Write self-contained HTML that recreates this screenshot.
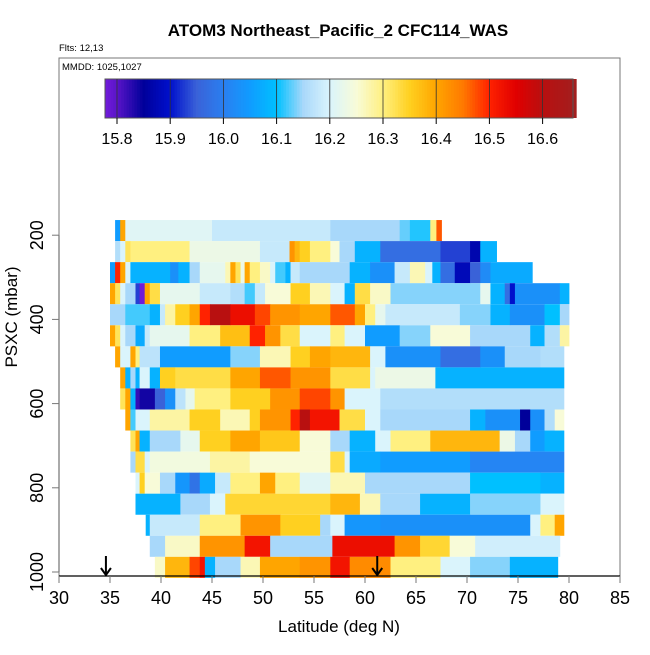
<!DOCTYPE html>
<html><head><meta charset="utf-8"><style>
html,body{margin:0;padding:0;background:#fff;}
svg text{font-family:"Liberation Sans",sans-serif;}
</style></head><body>
<svg id="chart" width="650" height="650" viewBox="0 0 650 650" xmlns="http://www.w3.org/2000/svg">
<rect width="650" height="650" fill="#fff"/>
<text x="338" y="36" font-size="17" font-weight="bold" text-anchor="middle">ATOM3 Northeast_Pacific_2 CFC114_WAS</text>
<text x="59" y="51" font-size="9.5">Flts: 12,13</text>
<rect x="59" y="58" width="561" height="518" fill="none" stroke="#777" stroke-width="1"/>
<text x="62" y="70" font-size="9.5">MMDD: 1025,1027</text>
<g id="colorbar"></g>
<g id="cells"></g>
<g id="axes"></g>
</svg>
<script>
const NS="http://www.w3.org/2000/svg";
const xTicks=[30,35,40,45,50,55,60,65,70,75,80,85];
const yTicks=[200,400,600,800,1000];
const cbTicks=[15.8,15.9,16.0,16.1,16.2,16.3,16.4,16.5,16.6];
const cbLabels=["15.8","15.9","16.0","16.1","16.2","16.3","16.4","16.5","16.6"];
const rowPressure=[189,239,289,339,389,439,489,539,589,639,689,739,789,839,889,939,989];
const arrowLats=[34.6,61.2];
const row0=[[35.5,36.0,16.05],[36.0,36.5,16.4],[36.5,45,16.21],[45,56.6,16.18],[56.6,63.4,16.15],[63.4,64.4,16.13],[64.4,66.4,16.11],[66.4,67.0,16.3],[67.0,67.5,16.47]];
const row1=[[35.5,36.0,16.16],[36.0,36.5,16.2],[36.5,37.0,16.32],[37.0,42.8,16.3],[42.8,49.7,16.23],[49.7,52.6,16.18],[52.6,53.1,16.42],[53.1,53.6,16.38],[53.6,54.6,16.35],[54.6,56.6,16.3],[56.6,57.5,16.25],[57.5,59.0,16.15],[59.0,61.5,16.08],[61.5,67.4,15.97],[67.4,70.3,15.93],[70.3,71.3,15.87],[71.3,72.9,16.08]];
const row2=[[35.0,35.5,16.05],[35.5,36.0,16.5],[36.0,36.5,16.4],[36.5,37.0,16.2],[37.0,40.9,16.08],[40.9,41.7,16.03],[41.7,42.8,16.08],[42.8,43.8,16.15],[43.8,46.3,16.22],[46.3,46.8,16.27],[46.8,47.3,16.4],[47.3,47.8,16.32],[47.8,48.2,16.23],[48.2,48.7,16.4],[48.7,49.7,16.3],[49.7,50.7,16.26],[50.7,51.2,16.2],[51.2,52.2,16.12],[52.2,52.7,16.08],[52.7,53.6,16.18],[53.6,58.5,16.15],[58.5,60.5,16.08],[60.5,62.9,16.03],[62.9,64.4,16.18],[64.4,65.9,16.27],[65.9,66.6,16.2],[66.6,67.4,16.08],[67.4,68.8,15.97],[68.8,70.3,15.88],[70.3,71.3,15.95],[71.3,72.3,16.02],[72.3,76.4,16.07]];
const row3=[[35.0,35.5,16.4],[35.5,36.0,16.32],[36.0,36.5,16.2],[36.5,37.5,16.15],[37.5,37.9,15.93],[37.9,38.4,15.78],[38.4,38.9,16.4],[38.9,39.9,16.33],[39.9,43.8,16.22],[43.8,46.8,16.18],[46.8,48.2,16.16],[48.2,49.2,16.12],[49.2,50.2,16.18],[50.2,52.7,16.25],[52.7,54.6,16.35],[54.6,56.6,16.27],[56.6,58.0,16.2],[58.0,59.0,16.08],[59.0,60.5,16.33],[60.5,62.5,16.26],[62.5,71.3,16.14],[71.3,72.3,16.22],[72.3,73.7,16.08],[73.7,74.2,15.97],[74.2,74.7,15.9],[74.7,79.1,16.03],[79.1,80.0,16.08]];
const row4=[[35.0,36.5,16.15],[36.5,38.9,16.12],[38.9,39.9,16.08],[39.9,40.4,16.18],[40.4,41.4,16.28],[41.4,42.8,16.35],[42.8,43.8,16.4],[43.8,44.8,16.5],[44.8,46.8,16.6],[46.8,49.2,16.53],[49.2,50.7,16.48],[50.7,53.6,16.42],[53.6,56.6,16.4],[56.6,59.0,16.47],[59.0,60.0,16.4],[60.0,61.0,16.3],[61.0,62.0,16.22],[62.0,69.3,16.18],[69.3,72.3,16.14],[72.3,74.2,16.08],[74.2,77.6,16.03],[77.6,79.1,16.1],[79.1,80.0,16.15]];
const row5=[[35.0,35.5,16.4],[35.5,36.0,16.32],[36.0,36.5,16.2],[36.5,37.5,16.15],[37.5,38.4,16.07],[38.4,38.9,16.18],[38.9,42.8,16.22],[42.8,45.8,16.3],[45.8,48.7,16.37],[48.7,50.2,16.5],[50.2,51.7,16.42],[51.7,53.6,16.33],[53.6,56.6,16.2],[56.6,58.0,16.3],[58.0,60.0,16.2],[60.0,63.4,16.05],[63.4,66.4,16.14],[66.4,70.3,16.25],[70.3,76.2,16.15],[76.2,77.6,16.08],[77.6,79.1,16.16],[79.1,80.0,16.28]];
const row6=[[35.5,36.0,16.4],[36.0,37.0,16.2],[37.0,37.5,16.4],[37.5,37.9,16.3],[37.9,39.9,16.17],[39.9,46.8,16.05],[46.8,49.7,16.14],[49.7,52.7,16.27],[52.7,54.6,16.35],[54.6,56.6,16.4],[56.6,60.5,16.38],[60.5,62.0,16.2],[62.0,67.4,16.03],[67.4,71.3,15.97],[71.3,73.7,16.03],[73.7,77.2,16.15],[77.2,79.5,16.16]];
const row7=[[36.0,36.5,16.4],[36.5,37.0,16.08],[37.0,37.5,16.15],[37.5,37.9,16.08],[37.9,38.9,16.2],[38.9,39.9,16.08],[39.9,41.4,16.35],[41.4,46.8,16.33],[46.8,49.7,16.4],[49.7,52.7,16.47],[52.7,56.6,16.42],[56.6,60.5,16.33],[60.5,61.0,16.2],[61.0,66.9,16.23],[66.9,79.5,16.08]];
const row8=[[36.0,36.5,16.32],[36.5,37.0,16.4],[37.0,37.5,16.08],[37.5,37.9,15.82],[37.9,39.4,15.84],[39.4,40.4,15.95],[40.4,41.4,16.03],[41.4,42.4,16.17],[42.4,43.3,16.22],[43.3,46.8,16.3],[46.8,50.7,16.35],[50.7,53.6,16.42],[53.6,56.6,16.48],[56.6,58.0,16.42],[58.0,61.5,16.2],[61.5,79.5,16.16]];
const row9=[[36.5,37.0,16.4],[37.0,37.5,16.12],[37.5,38.9,16.2],[38.9,42.8,16.28],[42.8,45.8,16.35],[45.8,48.7,16.27],[48.7,49.7,16.35],[49.7,52.7,16.42],[52.7,53.6,16.5],[53.6,54.6,16.6],[54.6,57.5,16.52],[57.5,60.0,16.33],[60.0,61.5,16.2],[61.5,70.3,16.15],[70.3,71.8,16.08],[71.8,75.2,16.03],[75.2,76.2,15.85],[76.2,77.6,16.03],[77.6,78.6,16.16],[78.6,79.5,16.25]];
const row10=[[37.0,37.5,16.32],[37.5,37.9,16.4],[37.9,38.9,16.08],[38.9,41.9,16.15],[41.9,43.8,16.22],[43.8,46.8,16.35],[46.8,49.7,16.4],[49.7,53.6,16.36],[53.6,56.6,16.25],[56.6,58.5,16.15],[58.5,61.0,16.08],[61.0,62.5,16.2],[62.5,66.4,16.3],[66.4,73.2,16.38],[73.2,74.7,16.23],[74.7,76.2,16.15],[76.2,77.6,16.05],[77.6,79.5,16.08]];
const row11=[[37.0,37.5,16.15],[37.5,38.4,16.33],[38.4,38.9,16.2],[38.9,44.8,16.24],[44.8,48.7,16.28],[48.7,56.6,16.25],[56.6,58.0,16.33],[58.0,58.5,16.2],[58.5,61.5,16.07],[61.5,70.3,16.05],[70.3,79.5,16.01]];
const row12=[[37.5,37.9,16.2],[37.9,38.4,16.35],[38.4,39.9,16.25],[39.9,41.4,16.15],[41.4,42.8,16.04],[42.8,43.8,15.98],[43.8,45.3,16.07],[45.3,46.8,16.18],[46.8,49.7,16.3],[49.7,51.2,16.4],[51.2,53.6,16.3],[53.6,56.6,16.21],[56.6,60.0,16.27],[60.0,70.3,16.15],[70.3,77.2,16.1],[77.2,79.5,16.08]];
const row13=[[37.5,41.9,16.08],[41.9,44.8,16.15],[44.8,46.3,16.2],[46.3,56.6,16.34],[56.6,59.5,16.38],[59.5,61.5,16.27],[61.5,65.4,16.15],[65.4,70.3,16.08],[70.3,77.2,16.14],[77.2,79.5,16.2]];
const row14=[[38.5,38.9,16.08],[38.9,43.8,16.18],[43.8,47.8,16.3],[47.8,51.7,16.42],[51.7,55.6,16.35],[55.6,56.6,16.15],[56.6,58.0,16.2],[58.0,61.5,16.04],[61.5,76.2,16.03],[76.2,77.2,16.2],[77.2,78.6,16.3],[78.6,79.5,16.4]];
const row15=[[38.9,40.4,16.15],[40.4,43.8,16.26],[43.8,48.2,16.42],[48.2,50.7,16.52],[50.7,56.8,16.15],[56.8,62.9,16.53],[62.9,65.4,16.42],[65.4,68.3,16.34],[68.3,70.8,16.25],[70.8,79.1,16.19]];
const row16=[[39.4,40.4,16.26],[40.4,42.8,16.38],[42.8,43.8,16.48],[43.8,44.3,16.52],[44.3,45.3,16.08],[45.3,47.8,16.15],[47.8,49.7,16.27],[49.7,53.6,16.4],[53.6,56.6,16.42],[56.6,58.5,16.52],[58.5,62.5,16.43],[62.5,67.4,16.3],[67.4,70.3,16.2],[70.3,74.2,16.14],[74.2,78.9,16.08]];
const rows=[row0,row1,row2,row3,row4,row5,row6,row7,row8,row9,row10,row11,row12,row13,row14,row15,row16];

const X=lat=>59+(lat-30)*10.2;
const Y=p=>151+p*0.421;
const CB=v=>117+(v-15.8)*532;
const stops=[[15.77,"#7b1fe0"],[15.8,"#5a14c8"],[15.85,"#00009a"],[15.9,"#0010cc"],[15.95,"#3a62d8"],[16.0,"#2a7ff0"],[16.05,"#109cff"],[16.1,"#00c0ff"],[16.15,"#a8d8fa"],[16.2,"#daf4fc"],[16.25,"#f8fbd8"],[16.3,"#fff080"],[16.35,"#ffd020"],[16.4,"#ffa500"],[16.45,"#ff7a00"],[16.5,"#ff2200"],[16.55,"#e00000"],[16.6,"#b81010"],[16.67,"#a02020"]];
function hx(c){return [1,3,5].map(i=>parseInt(c.substr(i,2),16));}
function col(v){
  if(v<=stops[0][0])return stops[0][1];
  for(let i=1;i<stops.length;i++){if(v<=stops[i][0]){const a=hx(stops[i-1][1]),b=hx(stops[i][1]);const t=(v-stops[i-1][0])/(stops[i][0]-stops[i-1][0]);return "rgb("+a.map((x,k)=>Math.round(x+(b[k]-x)*t)).join(",")+")";}}
  return stops[stops.length-1][1];
}
function mk(tag,attrs,parent){const e=document.createElementNS(NS,tag);for(const k in attrs)e.setAttribute(k,attrs[k]);parent.appendChild(e);return e;}

// colorbar
const cbg=document.getElementById('colorbar');
for(let v=15.778;v<16.66;v+=0.005){
  const r=mk('rect',{x:CB(v).toFixed(2),y:79,width:3.2,height:39,fill:col(v+0.0025)},cbg);
  
  
}
mk('rect',{x:105,y:79,width:468,height:39,fill:'none',stroke:'#555','stroke-width':1},cbg);
cbTicks.forEach((t,i)=>{
  const x=CB(t);
  mk('line',{x1:x,y1:79,x2:x,y2:118,stroke:'#333','stroke-width':0.8},cbg);
  mk('line',{x1:x,y1:118,x2:x,y2:124,stroke:'#000'},cbg);
  const tx=mk('text',{x:x,y:144,'font-size':16,'text-anchor':'middle'},cbg);
  tx.textContent=cbLabels[i];
  
  
});

// heatmap cells
const cg=document.getElementById('cells');
rows.forEach((segs,ri)=>{
  const y0=Y(rowPressure[ri]-25),y1=Y(rowPressure[ri]+25);
  segs.forEach(s=>{
    const r=mk('rect',{x:X(s[0]).toFixed(2),y:y0.toFixed(2),width:(X(s[1])-X(s[0])+0.4).toFixed(2),height:(y1-y0).toFixed(2),fill:col(s[2])},cg);
    
    
  });
});

// axes
const ag=document.getElementById('axes');
mk('line',{x1:59,y1:576,x2:620,y2:576,stroke:'#000','stroke-width':1.3},ag);
mk('line',{x1:59,y1:Y(200),x2:59,y2:Y(1000),stroke:'#555'},ag);
xTicks.forEach(t=>{
  const x=X(t);
  mk('line',{x1:x,y1:576,x2:x,y2:583,stroke:'#777'},ag);
  const tx=mk('text',{x:x,y:604,'font-size':18,'text-anchor':'middle'},ag);
  tx.textContent=t;
  
  
});
yTicks.forEach(t=>{
  const y=Y(t);
  mk('line',{x1:52,y1:y,x2:59,y2:y,stroke:'#777'},ag);
  const tx=mk('text',{x:0,y:0,'font-size':18,'text-anchor':'middle',transform:`translate(43,${y}) rotate(-90)`},ag);
  tx.textContent=t;
  
  
});
const xt=mk('text',{x:339,y:632,'font-size':17,'text-anchor':'middle'},ag);
xt.textContent='Latitude (deg N)';


const yt=mk('text',{x:0,y:0,'font-size':17,'text-anchor':'middle',transform:'translate(17,317) rotate(-90)'},ag);
yt.textContent='PSXC (mbar)';


arrowLats.forEach(l=>{
  const x=X(l);
  const g=mk('g',{},ag);
  
  
  mk('line',{x1:x,y1:556,x2:x,y2:575,stroke:'#000','stroke-width':2},g);
  mk('polyline',{points:`${x-5},${568} ${x},${575} ${x+5},${568}`,fill:'none',stroke:'#000','stroke-width':2},g);
});
</script>
</body></html>
